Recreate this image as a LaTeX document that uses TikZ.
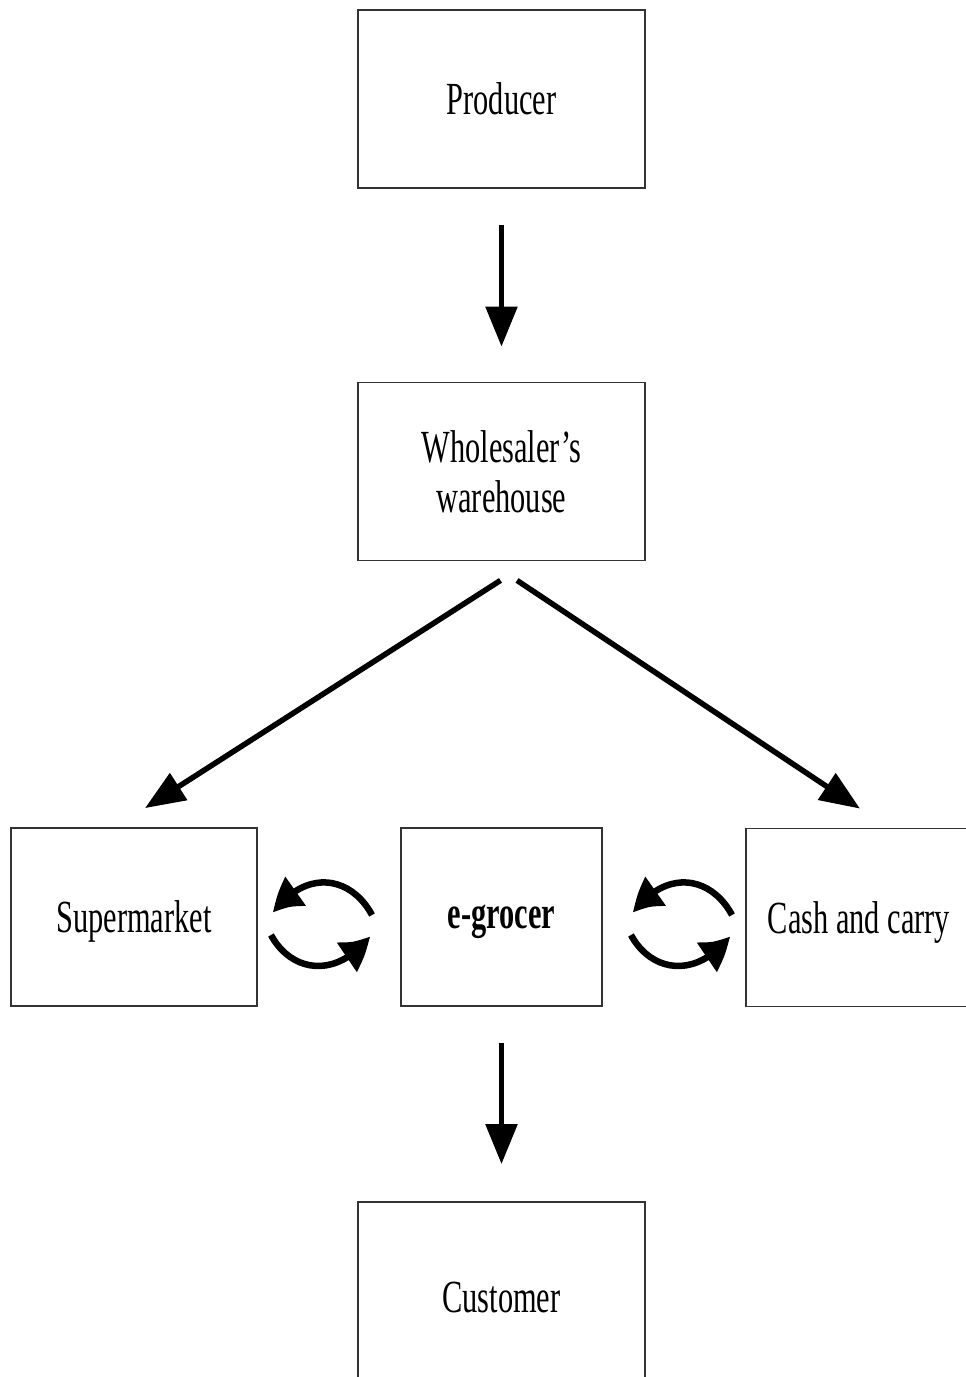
\documentclass[tikz,border=0pt]{standalone}
\usepackage{fontspec}
\setmainfont{Liberation Serif}[FakeStretch=0.66]
\usetikzlibrary{arrows.meta,bending}

\tikzset{
  block/.style={draw=black!80, line width=1.8pt, minimum width=287pt, minimum height=178pt,
    align=center, text depth=0pt, font=\fontsize{46}{50}\selectfont},
  flow/.style={-{Triangle[length=40pt,width=31pt]}, line width=5.5pt},
  swap/.style={-{Triangle[length=34pt,width=33pt,bend]}, line width=6.5pt},
}

\begin{document}
\begin{tikzpicture}[x=1pt,y=-1pt]

  \path[use as bounding box, clip] (0,0) rectangle (966,1377);

  % Boxes
  \node[block] (prod) at (501.5,99) {Producer};
  \node[block] (whole) at (501.5,471.5) {Wholesaler’s\\warehouse};
  \node[block, minimum width=246pt] (super) at (134,917) {Supermarket};
  \node[block, minimum width=201pt] (egro) at (501.5,917) {\textbf{e-grocer}};
  \node[block, minimum width=226pt] (cash) at (859,917.5) {Cash and carry};
  \node[block, minimum height=190pt] (cust) at (501.5,1297) {Customer};

  % Producer to wholesaler
  \draw[flow, shorten <=36pt, shorten >=35pt] (prod) -- (whole);

  % Wholesaler to supermarket and to cash and carry
  \draw[flow] ([shift={(-1,19)}]whole.south) -- ([shift={(11,-19)}]super.north);
  \draw[flow] ([shift={(15.5,19)}]whole.south) -- ([shift={(1,-19)}]cash.north);

  % Swaps between the shops
  \coordinate (sw1) at (321,924);
  \coordinate (sw2) at (681,924);
  \foreach \c in {sw1,sw2} {
    \draw[swap] ([shift={(51,-9)}]\c) .. controls ([shift={(30,-48)}]\c) and ([shift={(-15,-56)}]\c) .. ([shift={(-48,-11)}]\c);
    \draw[swap] ([shift={(-50,11)}]\c) .. controls ([shift={(-30,48)}]\c) and ([shift={(15,56)}]\c) .. ([shift={(49,12)}]\c);
  }

  % e-grocer to customer
  \draw[flow, shorten <=36pt, shorten >=37pt] (egro) -- (cust);

\end{tikzpicture}
\end{document}
